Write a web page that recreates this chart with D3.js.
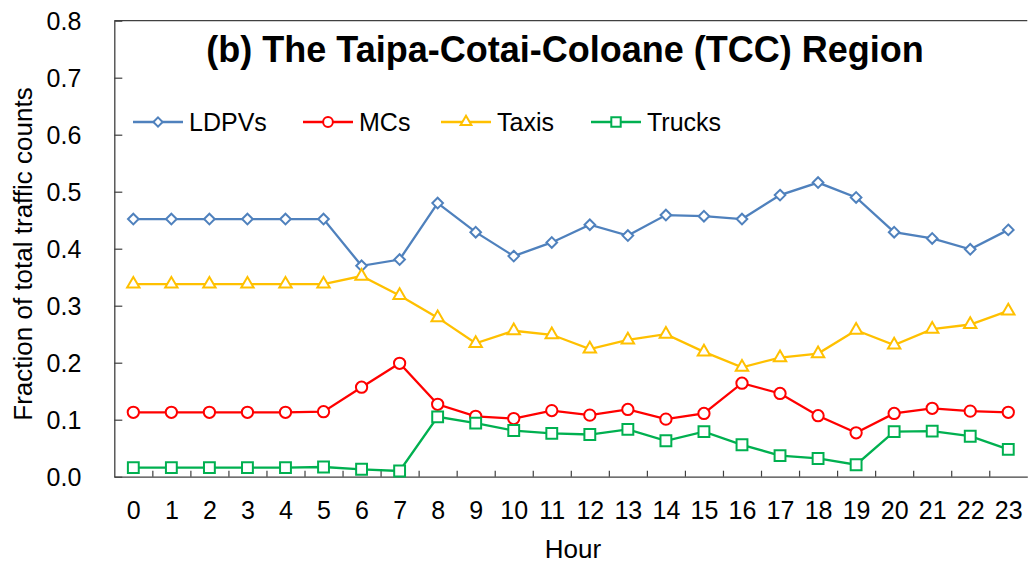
<!DOCTYPE html>
<html>
<head>
<meta charset="utf-8">
<script src="https://cdn.jsdelivr.net/npm/d3@7"></script>
<style>
  body { margin: 0; background: #fff; }
  svg { display: block; font-family: "Liberation Sans", Arial, sans-serif; }
</style>
</head>
<body>
<svg width="1028" height="563"></svg>
<script>
// hours 0..23
var hours = d3.range(0, 24);
var yTicks = [0, 0.1, 0.2, 0.3, 0.4, 0.5, 0.6, 0.7, 0.8];

var ldpvs = [0.452, 0.452, 0.452, 0.452, 0.452, 0.452, 0.370, 0.381, 0.480, 0.429, 0.387, 0.411,
             0.442, 0.423, 0.459, 0.457, 0.452, 0.494, 0.516, 0.490, 0.429, 0.418, 0.399, 0.433];
var mcs = [0.113, 0.113, 0.113, 0.113, 0.113, 0.114, 0.157, 0.199, 0.127, 0.106, 0.102, 0.116,
           0.108, 0.118, 0.101, 0.111, 0.164, 0.146, 0.107, 0.077, 0.111, 0.120, 0.115, 0.113];
var taxis = [0.338, 0.338, 0.338, 0.338, 0.338, 0.338, 0.352, 0.318, 0.279, 0.234, 0.256, 0.249,
             0.224, 0.240, 0.250, 0.219, 0.192, 0.209, 0.216, 0.257, 0.231, 0.259, 0.267, 0.291];
var trucks = [0.016, 0.016, 0.016, 0.016, 0.016, 0.017, 0.013, 0.010, 0.105, 0.094, 0.081, 0.076,
              0.074, 0.083, 0.063, 0.079, 0.056, 0.037, 0.032, 0.021, 0.079, 0.080, 0.071, 0.048];

var seriesNames = ["LDPVs", "MCs", "Taxis", "Trucks"];
var seriesValues = [ldpvs, mcs, taxis, trucks];
var seriesColors = ["#4f81bd", "#ff0000", "#ffc000", "#00b050"];
var seriesSymbols = [d3.symbolDiamond2, d3.symbolCircle, d3.symbolTriangle2, d3.symbolSquare2];
var symbolSizes = [72, 100, 110, 150];

var svg = d3.select("svg"),
    margin = {top: 20.7, right: 0.7, bottom: 86.3, left: 114.3},
    width = +svg.attr("width") - margin.left - margin.right,
    height = +svg.attr("height") - margin.top - margin.bottom,
    g = svg.append("g").attr("transform", "translate(" + margin.left + "," + margin.top + ")");

var x = d3.scaleLinear().domain([-0.5, 23.5]).range([0, width]);
var y = d3.scaleLinear().domain([0, 0.8]).range([height, 0]);

var axisColor = "#404040";

// top frame line
g.append("line")
    .attr("x1", 0).attr("x2", width)
    .attr("y1", 0).attr("y2", 0)
    .attr("stroke", axisColor).attr("stroke-width", 1.3);

// y axis
var yAxis = g.append("g")
    .call(d3.axisLeft(y).tickValues(yTicks).tickFormat(d3.format(".1f"))
        .tickSizeInner(-8).tickSizeOuter(0).tickPadding(33));
yAxis.select(".domain").attr("stroke", axisColor).attr("stroke-width", 1.3);
yAxis.selectAll(".tick line").attr("stroke", axisColor).attr("stroke-width", 1.2);
yAxis.selectAll(".tick text").attr("font-size", 25).attr("fill", "#000").attr("dy", "0.36em");

// x axis: ticks between categories
var xTickAxis = g.append("g")
    .attr("transform", "translate(0," + height + ")")
    .call(d3.axisBottom(x).tickValues(d3.range(0.5, 23, 1)).tickFormat("")
        .tickSizeInner(-6).tickSizeOuter(0));
xTickAxis.select(".domain").attr("stroke", axisColor).attr("stroke-width", 1.3);
xTickAxis.selectAll(".tick line").attr("stroke", axisColor).attr("stroke-width", 1.2);

// x axis labels
var xLabelAxis = g.append("g")
    .attr("transform", "translate(0," + height + ")")
    .call(d3.axisBottom(x).tickValues(hours).tickFormat(d3.format("d")).tickSize(0));
xLabelAxis.select(".domain").remove();
xLabelAxis.selectAll(".tick text")
    .attr("font-size", 25).attr("fill", "#000")
    .attr("dy", null).attr("y", 42);

// lines and markers
var line = d3.line()
    .x(function(d, i) { return x(hours[i]); })
    .y(function(d) { return y(d); });

seriesValues.forEach(function(vals, k) {
    var sg = g.append("g");
    sg.append("path")
        .datum(vals)
        .attr("fill", "none")
        .attr("stroke", seriesColors[k])
        .attr("stroke-width", 2.3)
        .attr("d", line);
    sg.selectAll("path.mark")
        .data(vals)
        .enter().append("path")
        .attr("class", "mark")
        .attr("transform", function(d, i) { return "translate(" + x(hours[i]) + "," + y(d) + ")"; })
        .attr("d", d3.symbol().type(seriesSymbols[k]).size(symbolSizes[k]))
        .attr("fill", "#fff")
        .attr("stroke", seriesColors[k])
        .attr("stroke-width", 2);
});

// legend
var legendX = [18.7, 188.7, 326.7, 476.7];
var legend = g.selectAll(".legend")
    .data(seriesNames)
    .enter().append("g")
    .attr("class", "legend")
    .attr("transform", function(d, i) { return "translate(" + legendX[i] + "," + (122 - margin.top) + ")"; });
legend.append("line")
    .attr("x1", 0).attr("x2", 50)
    .attr("stroke", function(d, i) { return seriesColors[i]; })
    .attr("stroke-width", 2.3);
legend.append("path")
    .attr("transform", "translate(25,0)")
    .attr("d", function(d, i) { return d3.symbol().type(seriesSymbols[i]).size(symbolSizes[i] * 0.75)(); })
    .attr("fill", "#fff")
    .attr("stroke", function(d, i) { return seriesColors[i]; })
    .attr("stroke-width", 2);
legend.append("text")
    .attr("x", 56)
    .attr("dy", "0.36em")
    .attr("font-size", 25)
    .text(function(d) { return d; });

// title
svg.append("text")
    .attr("x", 565)
    .attr("y", 62)
    .attr("text-anchor", "middle")
    .attr("font-size", 36)
    .attr("font-weight", "bold")
    .text("(b) The Taipa-Cotai-Coloane (TCC) Region");

// axis titles
svg.append("text")
    .attr("x", 573)
    .attr("y", 558)
    .attr("text-anchor", "middle")
    .attr("font-size", 26)
    .text("Hour");

svg.append("text")
    .attr("transform", "translate(32,254) rotate(-90)")
    .attr("text-anchor", "middle")
    .attr("font-size", 26)
    .text("Fraction of total traffic counts");
</script>
</body>
</html>
